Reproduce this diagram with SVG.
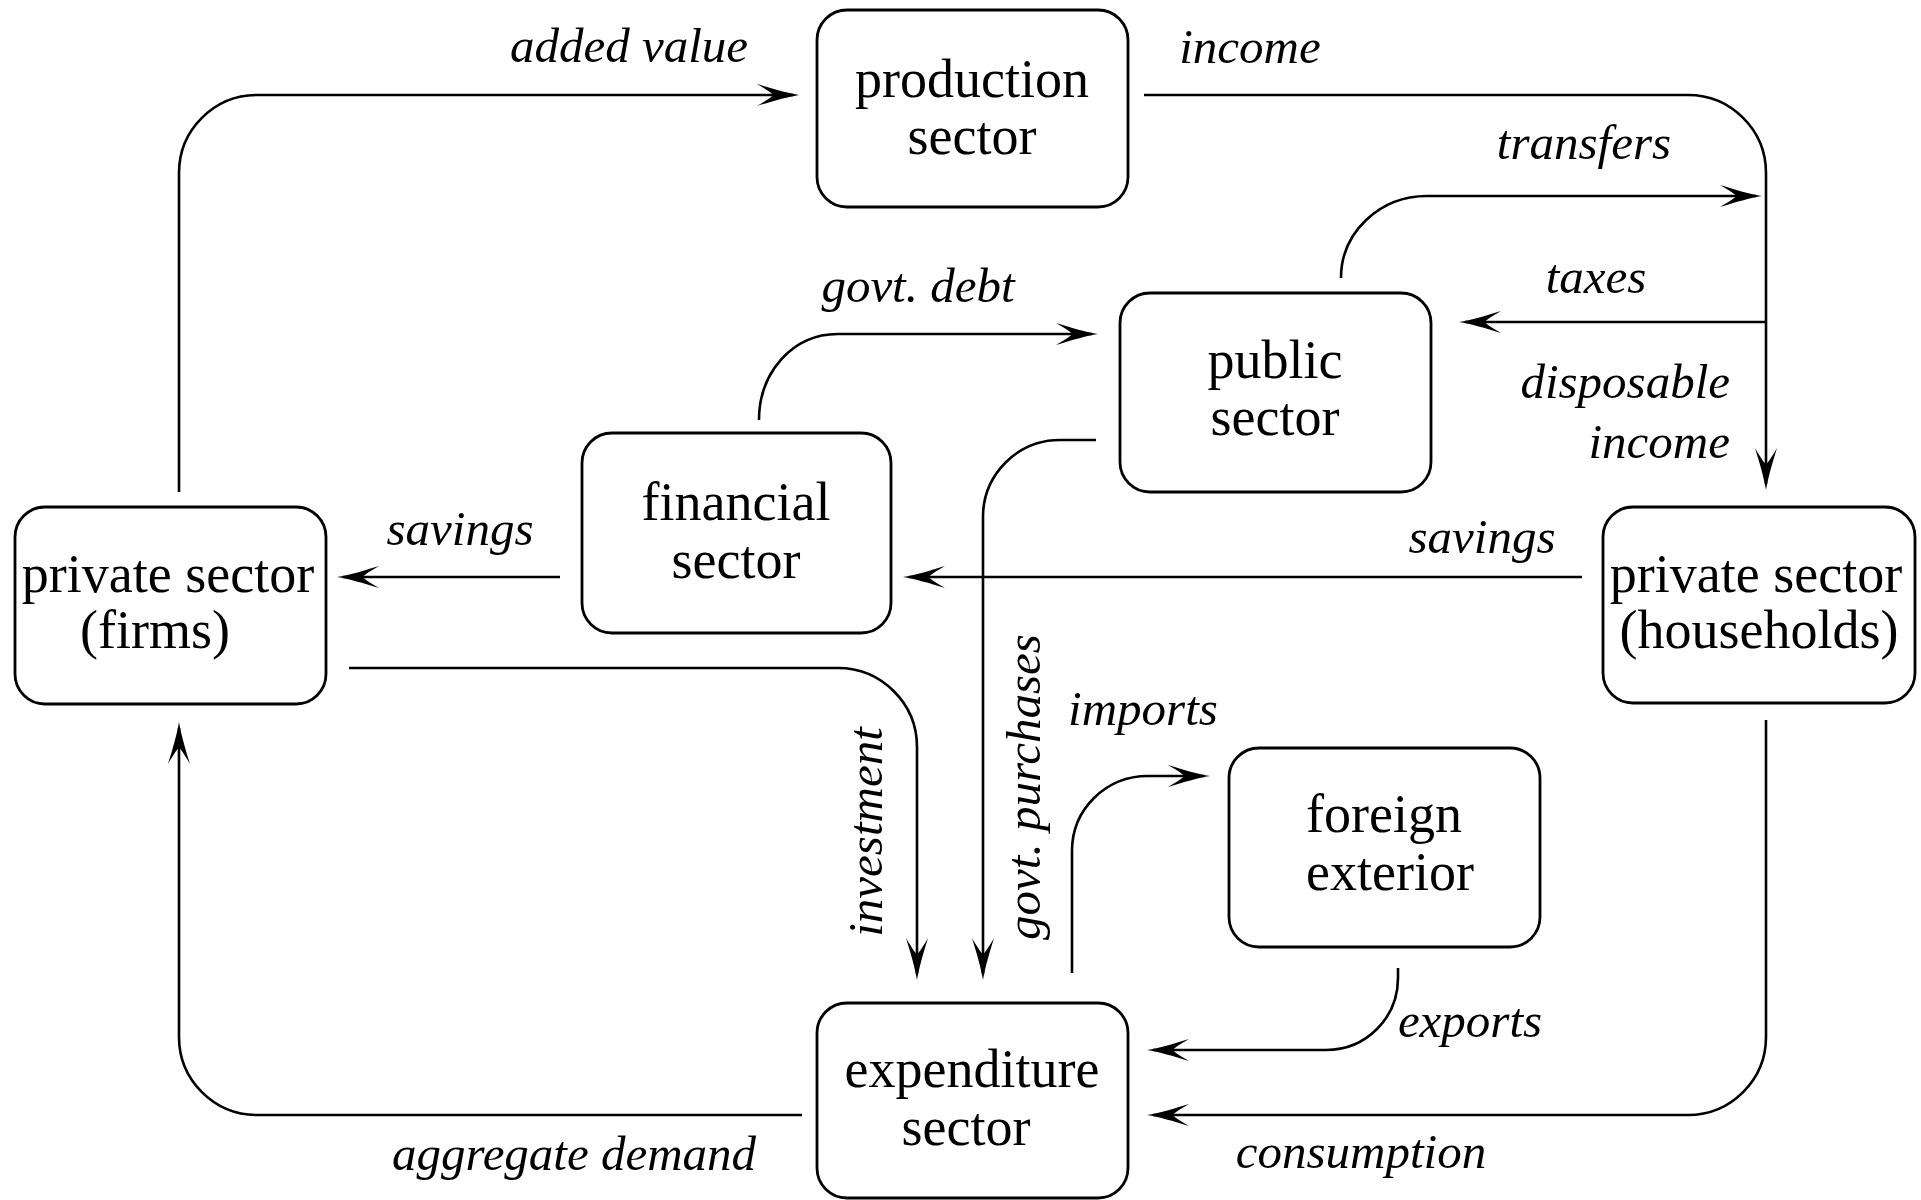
<svg xmlns="http://www.w3.org/2000/svg" width="1921" height="1200" viewBox="0 0 1921 1200">
<style>
.box{fill:#fff;stroke:#000;stroke-width:2.8}
.lbl{font-family:"Liberation Serif","Times New Roman",serif;font-size:54px;text-anchor:middle;fill:#000}
.ed{fill:none;stroke:#000;stroke-width:2.6}
.el{font-family:"Liberation Serif","Times New Roman",serif;font-style:italic;font-size:49px;text-anchor:middle;fill:#000}
</style>
<defs>
<marker id="ah" markerUnits="userSpaceOnUse" orient="auto" markerWidth="60" markerHeight="30" viewBox="-45 -15 60 30" refX="0" refY="0">
<path d="M6,0 C-6,-2 -20,-6 -36,-11 C-24,-4 -20,-1 -20,0 C-20,1 -24,4 -36,11 C-20,6 -6,2 6,0 Z" fill="#000"/>
</marker>
</defs>
<g id="connectors">
<path class="ed" d="M179,492 L179,173 C179,130 214,95 257,95 L793,95" marker-end="url(#ah)"/>
<path class="ed" d="M1144,95 L1688,95 C1731,95 1766,130 1766,173 L1766,484" marker-end="url(#ah)"/>
<path class="ed" d="M1341,278 C1341,232 1380,196 1427,196 L1756,196" marker-end="url(#ah)"/>
<path class="ed" d="M1766,322 L1465,322" marker-end="url(#ah)"/>
<path class="ed" d="M759,420 C759,373 792,334 838,334 L1092,334" marker-end="url(#ah)"/>
<path class="ed" d="M560,577 L343,577" marker-end="url(#ah)"/>
<path class="ed" d="M1582,577 L909,577" marker-end="url(#ah)"/>
<path class="ed" d="M1096,440 L1060,440 C1017,440 983,475 983,517 L983,974" marker-end="url(#ah)"/>
<path class="ed" d="M349,668 L838,668 C881,668 917,703 917,747 L917,974" marker-end="url(#ah)"/>
<path class="ed" d="M1072,973 L1072,851 C1072,809 1106,776 1148,776 L1204,776" marker-end="url(#ah)"/>
<path class="ed" d="M1398,968 L1398,978 C1398,1018 1366,1050 1326,1050 L1153,1050" marker-end="url(#ah)"/>
<path class="ed" d="M1766,720 L1766,1037 C1766,1080 1731,1115 1688,1115 L1153,1115" marker-end="url(#ah)"/>
<path class="ed" d="M802,1115 L257,1115 C214,1115 179,1080 179,1037 L179,728" marker-end="url(#ah)"/>
<text class="el" x="629" y="62">added value</text>
<text class="el" x="1250" y="63">income</text>
<text class="el" x="1584" y="159">transfers</text>
<text class="el" x="1596" y="293">taxes</text>
<text class="el" x="1730" y="398" style="text-anchor:end">disposable</text>
<text class="el" x="1730" y="458" style="text-anchor:end">income</text>
<text class="el" x="918" y="302">govt. debt</text>
<text class="el" x="460" y="545">savings</text>
<text class="el" x="1482" y="553">savings</text>
<text class="el" x="1143" y="725">imports</text>
<text class="el" x="1470" y="1037">exports</text>
<text class="el" x="1361" y="1168">consumption</text>
<text class="el" x="574" y="1170">aggregate demand</text>
<text class="el" transform="translate(882,832) rotate(-90)">investment</text>
<text class="el" transform="translate(1040,787) rotate(-90)">govt. purchases</text>
</g>
<g id="production">
<rect class="box" x="817" y="10" width="311" height="197" rx="30"/>
<text class="lbl" x="972" y="97">production</text>
<text class="lbl" x="972" y="154">sector</text>
</g>
<g id="public">
<rect class="box" x="1120" y="293" width="311" height="199" rx="30"/>
<text class="lbl" x="1275" y="378">public</text>
<text class="lbl" x="1275" y="435">sector</text>
</g>
<g id="financial">
<rect class="box" x="582" y="433" width="309" height="200" rx="30"/>
<text class="lbl" x="736" y="520">financial</text>
<text class="lbl" x="736" y="578">sector</text>
</g>
<g id="firms">
<rect class="box" x="15" y="507" width="311" height="197" rx="30"/>
<text class="lbl" x="168" y="592">private sector</text>
<text class="lbl" x="155" y="648">(firms)</text>
</g>
<g id="households">
<rect class="box" x="1603" y="507" width="312" height="196" rx="30"/>
<text class="lbl" x="1756" y="592">private sector</text>
<text class="lbl" x="1759" y="648">(households)</text>
</g>
<g id="foreign">
<rect class="box" x="1229" y="748" width="311" height="199" rx="30"/>
<text class="lbl" x="1384" y="832">foreign</text>
<text class="lbl" x="1390" y="890">exterior</text>
</g>
<g id="expenditure">
<rect class="box" x="817" y="1003" width="311" height="195" rx="30"/>
<text class="lbl" x="972" y="1087">expenditure</text>
<text class="lbl" x="966" y="1145">sector</text>
</g>
</svg>
